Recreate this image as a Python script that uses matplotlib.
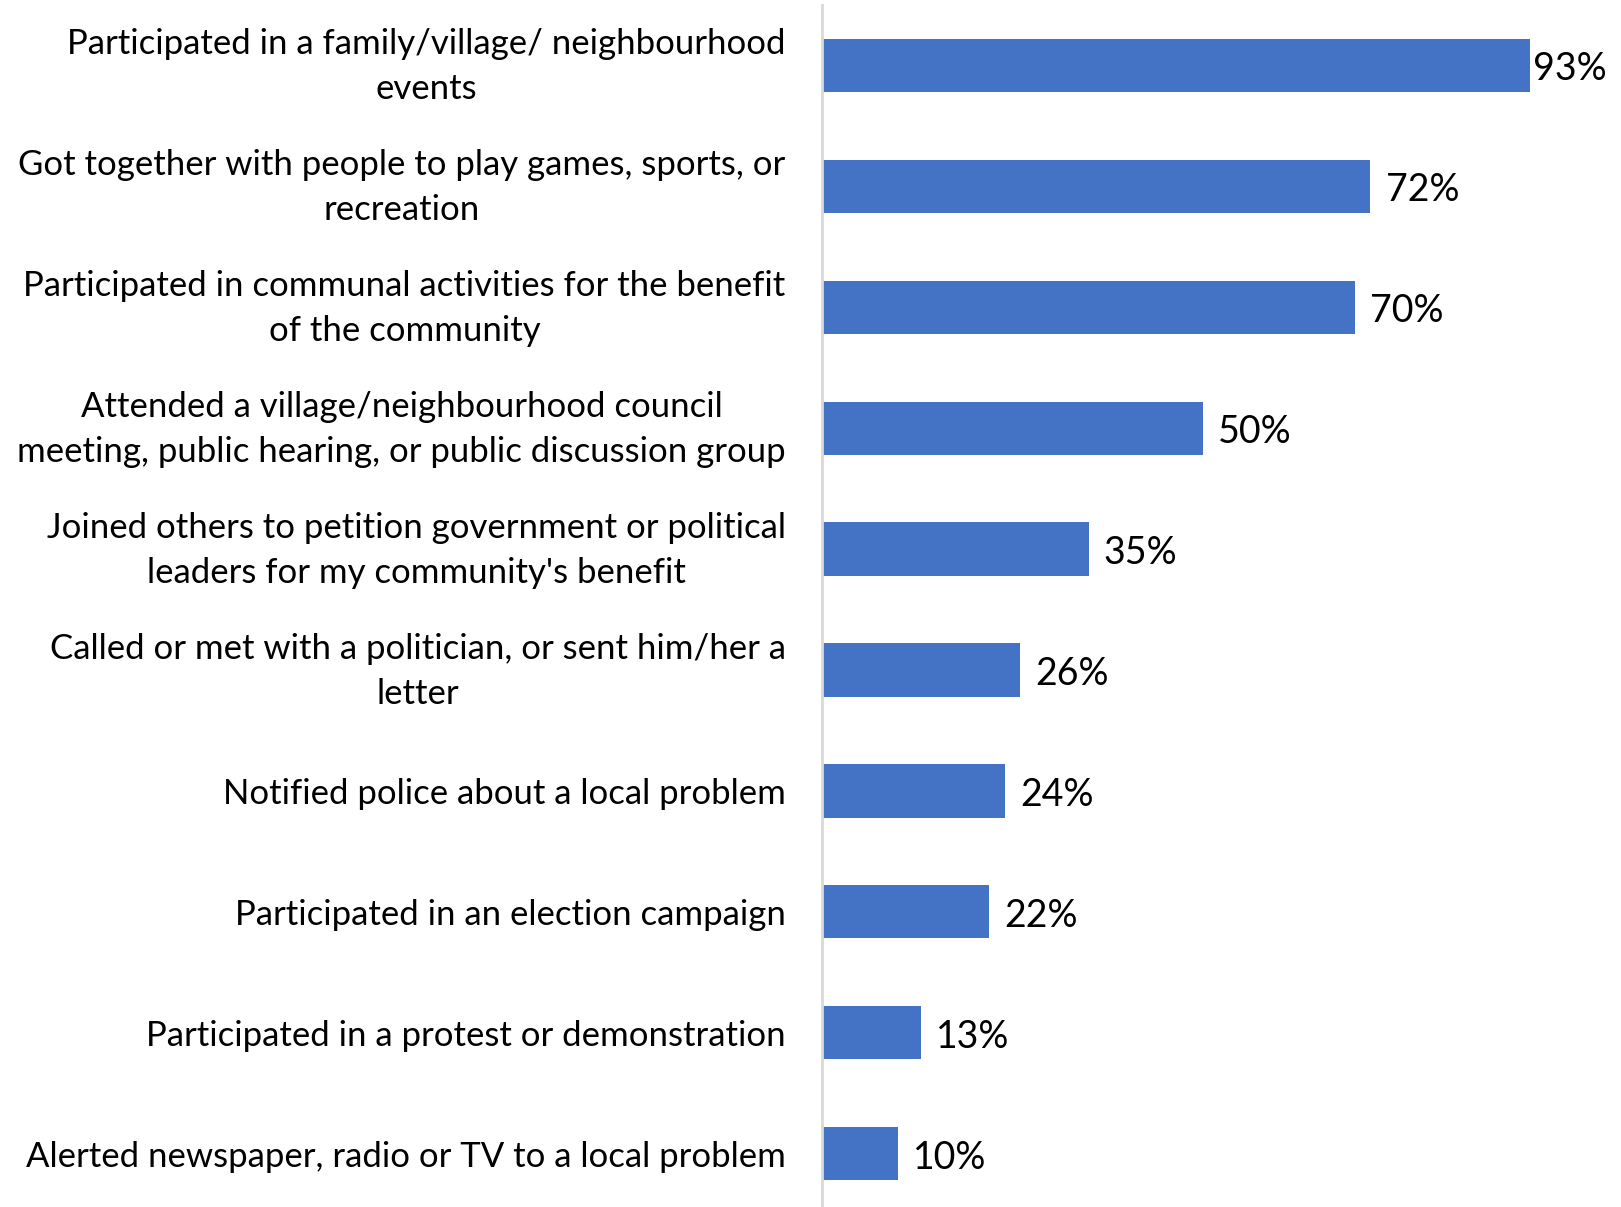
import matplotlib.pyplot as plt
import matplotlib.transforms as mtransforms

plt.rcParams['font.family'] = ['Lato', 'DejaVu Sans']

activities = [
    "Participated in a family/village/ neighbourhood\nevents",
    "Got together with people to play games, sports, or\nrecreation",
    "Participated in communal activities for the benefit\nof the community",
    "Attended a village/neighbourhood council\nmeeting, public hearing, or public discussion group",
    "Joined others to petition government or political\nleaders for my community's benefit",
    "Called or met with a politician, or sent him/her a\nletter",
    "Notified police about a local problem",
    "Participated in an election campaign",
    "Participated in a protest or demonstration",
    "Alerted newspaper, radio or TV to a local problem",
]
shares = [93, 72, 70, 50, 35, 26, 24, 22, 13, 10]

fig = plt.figure(figsize=(16.21, 12.07), dpi=100)
ax = fig.add_axes([0.507, -0.006, 0.47, 1.002])

ypos = list(range(len(activities)))
ax.barh(ypos, shares, height=0.44, color='#4472C4')

for y, v in zip(ypos, shares):
    # the longest label sits tight against its bar, as in the source
    off = 2 if v > 90 else 11
    ax.annotate(f"{v}%", (v, y), xytext=(off, -3), textcoords='offset points',
                ha='left', va='center', fontsize=27, color='black', clip_on=False)

ax.set_xlim(0, 100)
ax.set_ylim(len(activities) - 0.5, -0.5)
ax.set_yticks(ypos)
ax.set_yticklabels(activities, fontsize=25, multialignment='center', linespacing=1.5)
ax.tick_params(axis='y', length=0, pad=26)
ax.set_xticks([])

# two-line labels come out a bit low, nudge them up
shift = mtransforms.ScaledTranslation(0, 8 / 100, fig.dpi_scale_trans)
for lbl in ax.get_yticklabels():
    if '\n' in lbl.get_text():
        lbl.set_transform(lbl.get_transform() + shift)

for s in ['top', 'right', 'bottom']:
    ax.spines[s].set_visible(False)
ax.spines['left'].set_color('#D9D9D9')
ax.spines['left'].set_linewidth(2)

fig.savefig('out.png', dpi=100)
